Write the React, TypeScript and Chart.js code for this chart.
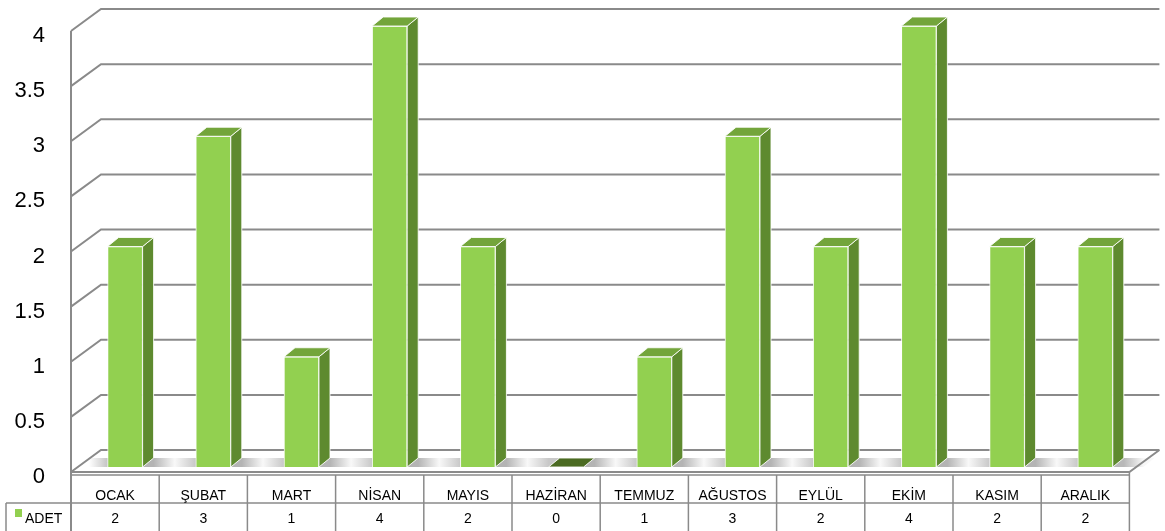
import React, { useEffect, useRef } from "react";
import { Chart, registerables } from "chart.js";

Chart.register(...registerables);

const categories = ["OCAK", "ŞUBAT", "MART", "NİSAN", "MAYIS", "HAZİRAN", "TEMMUZ", "AĞUSTOS", "EYLÜL", "EKİM", "KASIM", "ARALIK"];
const adet = [2, 3, 1, 4, 2, 0, 1, 3, 2, 4, 2, 2];
const seriesName = "ADET";
const yMin = 0;
const yMax = 4;
const yStep = 0.5;

const W = 1165;
const H = 531;
const FRONT = "#92D050";
const SIDE = "#5E8A2F";
const TOP = "#73A53B";
const ZERO_TOP = "#4B6B22";
const GRID = "#8a8a8a";
const FONT = "'Liberation Sans', Arial, sans-serif";

const BX = 30; // wall depth
const BY = 22;
const DX = 11; // bar depth
const DY = 9;

const excel3d = {
  id: "excel3d",
  beforeDatasetsDraw(chart: any) {
    const { ctx, chartArea, scales } = chart;
    const y = scales.y;
    const fl = chartArea.left - 10;
    const fr = chartArea.right - 10;
    const fy = (v: number) => y.getPixelForValue(v) + 5;
    const base = y.getPixelForValue(0);
    ctx.save();
    const meta = chart.getDatasetMeta(0);
    const edges: number[][] = [];
    meta.data.forEach((bar: any) => {
      const half = bar.width / 2;
      edges.push([bar.x - half, bar.x + half]);
    });
    const gaps: number[][] = [];
    gaps.push([fl + 18, edges[0][0]]);
    for (let i = 0; i < edges.length - 1; i++) gaps.push([edges[i][1] + DX, edges[i + 1][0]]);
    gaps.push([edges[edges.length - 1][1] + DX, fr + 14]);
    gaps.forEach(([a, b], gi) => {
      const g = ctx.createLinearGradient(a, 0, b, 0);
      if (gi === 0) {
        g.addColorStop(0, "#ffffff");
        g.addColorStop(1, "#c4c4c4");
      } else if (gi === gaps.length - 1) {
        g.addColorStop(0, "#b8b8b8");
        g.addColorStop(1, "#f8f8f8");
      } else {
        g.addColorStop(0, "#b4b4b4");
        g.addColorStop(0.5, "#f8f8f8");
        g.addColorStop(1, "#c8c8c8");
      }
      ctx.fillStyle = g;
      ctx.beginPath();
      ctx.moveTo(a - DX, base);
      ctx.lineTo(a, base - DY);
      ctx.lineTo(b + DX, base - DY);
      ctx.lineTo(b, base);
      ctx.closePath();
      ctx.fill();
    });
    ctx.strokeStyle = GRID;
    ctx.lineWidth = 2;
    y.ticks.forEach((t: any) => {
      const v = t.value;
      ctx.beginPath();
      ctx.moveTo(fl, fy(v));
      ctx.lineTo(fl + BX, fy(v) - BY);
      ctx.lineTo(fr + BX, fy(v) - BY);
      ctx.stroke();
    });
    ctx.beginPath();
    ctx.moveTo(fl, fy(yMax));
    ctx.lineTo(fl, H);
    ctx.stroke();
    ctx.beginPath();
    ctx.moveTo(fl, fy(0));
    ctx.lineTo(fr, fy(0));
    ctx.lineTo(fr + BX, fy(0) - BY);
    ctx.stroke();
    ctx.restore();
  },
  afterDatasetsDraw(chart: any) {
    const { ctx } = chart;
    const meta = chart.getDatasetMeta(0);
    ctx.save();
    ctx.lineWidth = 1;
    ctx.strokeStyle = "rgba(255,255,255,0.85)";
    meta.data.forEach((bar: any, i: number) => {
      const half = bar.width / 2;
      const x0 = bar.x - half;
      const x1 = bar.x + half;
      const yt = bar.y;
      const yb = bar.base;
      if (yb - yt > 0.5) {
        ctx.fillStyle = SIDE;
        ctx.beginPath();
        ctx.moveTo(x1, yt);
        ctx.lineTo(x1 + DX, yt - DY);
        ctx.lineTo(x1 + DX, yb - DY);
        ctx.lineTo(x1, yb);
        ctx.closePath();
        ctx.fill();
        ctx.stroke();
      }
      ctx.fillStyle = adet[i] === 0 ? ZERO_TOP : TOP;
      ctx.beginPath();
      ctx.moveTo(x0, yt);
      ctx.lineTo(x0 + DX, yt - DY);
      ctx.lineTo(x1 + DX, yt - DY);
      ctx.lineTo(x1, yt);
      ctx.closePath();
      ctx.fill();
      ctx.stroke();
    });
    ctx.restore();
  },
  afterDraw(chart: any) {
    const { ctx, chartArea, scales } = chart;
    const x = scales.x;
    const fl = chartArea.left - 10;
    const fr = chartArea.right - 10;
    const r0 = 475;
    const r1 = 503;
    const n = categories.length;
    const colW = (fr - fl) / n;
    ctx.save();
    ctx.strokeStyle = GRID;
    ctx.lineWidth = 1.5;
    ctx.beginPath();
    ctx.moveTo(fl, r0);
    ctx.lineTo(fr, r0);
    ctx.moveTo(6, r1);
    ctx.lineTo(fr, r1);
    ctx.moveTo(6, r1);
    ctx.lineTo(6, H);
    for (let i = 1; i <= n; i++) {
      const xx = i === n ? fr : x.getPixelForValue(i) - 10 - colW / 2;
      ctx.moveTo(xx, i === n ? 472 : r0);
      ctx.lineTo(xx, H);
    }
    ctx.stroke();
    ctx.fillStyle = "#000";
    ctx.font = `14px ${FONT}`;
    ctx.textAlign = "center";
    ctx.textBaseline = "alphabetic";
    categories.forEach((c, i) => {
      const cx = x.getPixelForValue(i) - 10;
      ctx.fillText(c, cx, 500);
      ctx.fillText(String(adet[i]), cx, 523);
    });
    ctx.fillStyle = FRONT;
    ctx.fillRect(15, 509, 7, 8);
    ctx.fillStyle = "#000";
    ctx.textAlign = "left";
    ctx.fillText(seriesName, 25, 523);
    ctx.restore();
  },
};

export default function App() {
  const ref = useRef<HTMLCanvasElement>(null);
  useEffect(() => {
    if (!ref.current) return;
    const chart = new Chart(ref.current, {
      type: "bar",
      data: {
        labels: categories,
        datasets: [
          {
            label: seriesName,
            data: adet,
            backgroundColor: FRONT,
            borderColor: "rgba(255,255,255,0.9)",
            borderWidth: 1,
            borderSkipped: "bottom",
            barThickness: 35,
          },
        ],
      },
      options: {
        responsive: false,
        animation: false,
        layout: { padding: { left: 0, top: 26, right: 25.6, bottom: 64 } },
        plugins: { legend: { display: false }, tooltip: { enabled: false } },
        scales: {
          x: { display: false, offset: true },
          y: {
            min: yMin,
            max: yMax,
            afterFit: (s: any) => {
              s.width = 81;
              s.paddingTop = 0;
              s.paddingBottom = 0;
            },
            grid: { display: false, drawTicks: false },
            border: { display: false },
            ticks: {
              stepSize: yStep,
              padding: 36,
              labelOffset: 10,
              color: "#000",
              font: { family: FONT, size: 22 },
              callback: (v: any) => String(Number(v)),
            },
          },
        },
      },
      plugins: [excel3d],
    });
    return () => chart.destroy();
  }, []);
  return (
    <div style={{ position: "fixed", left: 0, top: 0, width: W, height: H, background: "#fff" }}>
      <canvas ref={ref} width={W} height={H} style={{ width: W, height: H, display: "block" }} />
    </div>
  );
}
